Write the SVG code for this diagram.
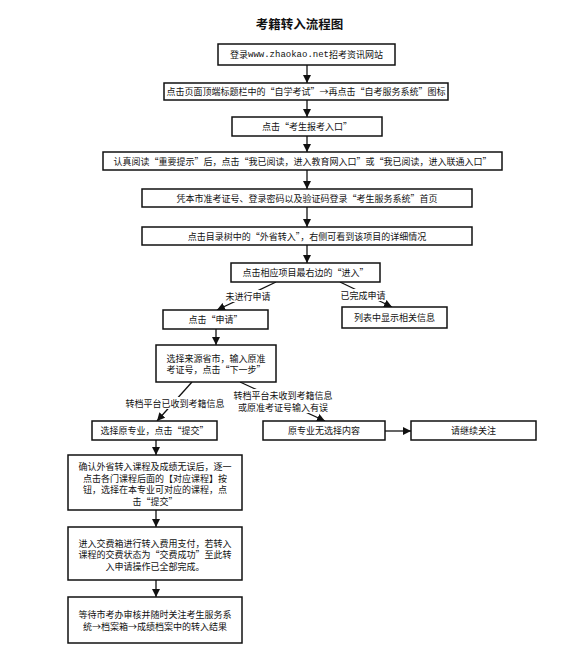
<svg xmlns="http://www.w3.org/2000/svg" width="583" height="659" viewBox="0 0 583 659">
<style>
.bg{fill:#fff}
.box{fill:#fff;stroke:#111;stroke-width:1.5}
.t{font-family:"Noto Sans CJK SC","Noto Sans",sans-serif;font-size:9px;fill:#111;text-anchor:middle;dominant-baseline:central}
.m{font-family:"Liberation Mono",monospace;font-size:9px}
.title{font-family:"Noto Sans CJK SC",sans-serif;font-size:12.5px;font-weight:bold;fill:#111;text-anchor:middle;dominant-baseline:central}
.c{stroke:#111;stroke-width:1.3;fill:none;marker-end:url(#ah)}
.lbg{fill:#fff}
</style>
<defs>
<marker id="ah" viewBox="0 0 10 10" refX="10" refY="5" markerUnits="userSpaceOnUse" markerWidth="8" markerHeight="8" orient="auto">
<path d="M0,0 L10,5 L0,10 z" fill="#111"/>
</marker>
</defs>
<rect class="bg" x="0" y="0" width="583" height="659"/>
<text class="title" x="299.5" y="23">考籍转入流程图</text>

<g id="connectors">
<line class="c" x1="307" y1="65" x2="307" y2="83"/>
<line class="c" x1="307" y1="100" x2="307" y2="117"/>
<line class="c" x1="307" y1="136" x2="307" y2="152"/>
<line class="c" x1="307" y1="170" x2="307" y2="189"/>
<line class="c" x1="307" y1="207" x2="307" y2="227"/>
<line class="c" x1="307" y1="245" x2="307" y2="263"/>
<line class="c" x1="276" y1="282" x2="217" y2="310"/>
<line class="c" x1="340" y1="282" x2="392" y2="307"/>
<line class="c" x1="216" y1="329" x2="216" y2="345"/>
<line class="c" x1="192" y1="382" x2="157" y2="421"/>
<line class="c" x1="240" y1="382" x2="325" y2="421"/>
<line class="c" x1="385" y1="431" x2="411" y2="431"/>
<line class="c" x1="156" y1="440" x2="156" y2="455"/>
<line class="c" x1="156" y1="510" x2="156" y2="527"/>
<line class="c" x1="156" y1="580" x2="156" y2="597"/>
<rect class="lbg" x="225" y="290" width="46" height="12"/>
<text class="t" x="248" y="296">未进行申请</text>
<rect class="lbg" x="340" y="289" width="46" height="12"/>
<text class="t" x="363" y="295">已完成申请</text>
<rect class="lbg" x="124" y="397" width="101" height="12"/>
<text class="t" x="175" y="403">转档平台已收到考籍信息</text>
<rect class="lbg" x="232" y="389" width="102" height="24"/>
<text class="t" x="283" y="395">转档平台未收到考籍信息</text>
<text class="t" x="283" y="407">或原准考证号输入有误</text>
</g>

<g id="n1"><rect class="box" x="218" y="44" width="177" height="21"/>
<text class="t" x="306.5" y="54.5">登录<tspan class="m">www.zhaokao.net</tspan>招考资讯网站</text></g>
<g id="n2"><rect class="box" x="164" y="83" width="284" height="17"/>
<text class="t" x="306" y="91.5">点击页面顶端标题栏中的“自学考试”→再点击“自考服务系统”图标</text></g>
<g id="n3"><rect class="box" x="232" y="117" width="150" height="19"/>
<text class="t" x="307" y="126.5">点击“考生报考入口”</text></g>
<g id="n4"><rect class="box" x="103" y="152" width="399" height="18"/>
<text class="t" x="302.5" y="161">认真阅读“重要提示”后，点击“我已阅读，进入教育网入口”或“我已阅读，进入联通入口”</text></g>
<g id="n5"><rect class="box" x="142" y="189" width="330" height="18"/>
<text class="t" x="307" y="198">凭本市准考证号、登录密码以及验证码登录“考生服务系统”首页</text></g>
<g id="n6"><rect class="box" x="142" y="227" width="330" height="18"/>
<text class="t" x="307" y="236">点击目录树中的“外省转入”，右侧可看到该项目的详细情况</text></g>
<g id="n7"><rect class="box" x="231" y="263" width="149" height="19"/>
<text class="t" x="305.5" y="272.5">点击相应项目最右边的“进入”</text></g>
<g id="n8"><rect class="box" x="163" y="310" width="105" height="19"/>
<text class="t" x="215.5" y="319.5">点击“申请”</text></g>
<g id="n9"><rect class="box" x="342" y="307" width="105" height="21"/>
<text class="t" x="394.5" y="317.5">列表中显示相关信息</text></g>
<g id="n10"><rect class="box" x="156" y="345" width="120" height="37"/>
<text class="t" x="216" y="358">选择来源省市，输入原准</text>
<text class="t" x="216" y="369.5">考证号，点击“下一步”</text></g>
<g id="n11"><rect class="box" x="92" y="421" width="125" height="19"/>
<text class="t" x="154.5" y="430.5">选择原专业，点击“提交”</text></g>
<g id="n12"><rect class="box" x="263" y="421" width="122" height="19"/>
<text class="t" x="324" y="430.5">原专业无选择内容</text></g>
<g id="n13"><rect class="box" x="411" y="421" width="125" height="19"/>
<text class="t" x="473.5" y="430.5">请继续关注</text></g>
<g id="n14"><rect class="box" x="68" y="455" width="174" height="55"/>
<text class="t" x="155" y="466.5">确认外省转入课程及成绩无误后，逐一</text>
<text class="t" x="155" y="478">点击各门课程后面的【对应课程】按</text>
<text class="t" x="155" y="489.5">钮，选择在本专业可对应的课程，点</text>
<text class="t" x="155" y="501">击“提交”</text></g>
<g id="n15"><rect class="box" x="68" y="527" width="174" height="53"/>
<text class="t" x="155" y="543">进入交费箱进行转入费用支付，若转入</text>
<text class="t" x="155" y="554.5">课程的交费状态为“交费成功”至此转</text>
<text class="t" x="155" y="566">入申请操作已全部完成。</text></g>
<g id="n16"><rect class="box" x="68" y="597" width="174" height="46"/>
<text class="t" x="155" y="614">等待市考办审核并随时关注考生服务系</text>
<text class="t" x="155" y="626">统→档案箱→成绩档案中的转入结果</text></g>
</svg>
